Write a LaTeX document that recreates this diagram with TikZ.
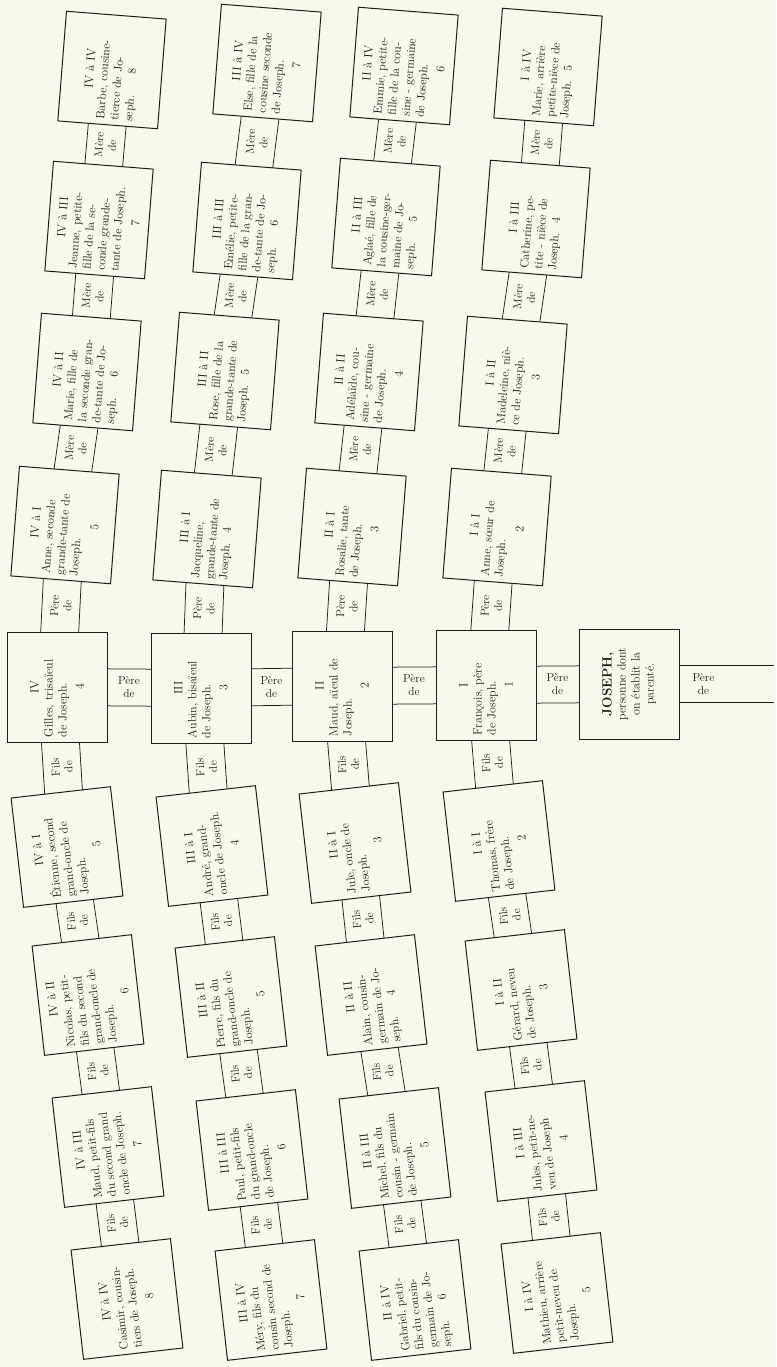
\documentclass[tikz,border=0pt]{standalone}
\usetikzlibrary{backgrounds,calc}
\definecolor{paper}{RGB}{248,248,238}
\definecolor{ink}{RGB}{30,30,28}
\newcommand{\fullline}[1]{\makebox[100pt][s]{#1}}
\newcommand{\midline}[1]{\makebox[100pt][c]{#1}}
\newcommand{\lastnum}[2]{\makebox[100pt][c]{\rlap{#1}\hfill#2\hfill}}
\begin{document}
\begin{tikzpicture}[x=1pt, y=-1pt,
    kinbox/.style={draw=ink, line width=1pt, fill=paper, text=ink,
      font=\fontsize{12}{14}\selectfont, text width=100pt, align=left,
      inner xsep=5pt, inner ysep=3pt, minimum height=100pt},
    upbox/.style={kinbox, rotate=85.5},
    rootbox/.style={kinbox, rotate=90},
    lowbox/.style={kinbox, rotate=96.5},
    linklabel/.style={text=ink, font=\fontsize{11.5}{13}\selectfont, align=center, inner sep=0pt},
    strip/.style={draw=ink, line width=0.75pt}]
    \useasboundingbox (0,0) rectangle (776,1367);

    \node[upbox] (barbe) at (112,70) {\midline{IV à IV}\\\fullline{Barbe, cousine-}\\\fullline{tierce de Jo-}\\\lastnum{seph.}{8}};
    \node[upbox] (jeanne) at (99,220) {\midline{IV à III}\\\fullline{Jeanne, petite-}\\\fullline{fille de la se-}\\\fullline{conde grande-}\\\fullline{tante de Joseph.}\\[3pt]\midline{7}};
    \node[upbox] (marieb) at (87,372) {\midline{IV à II}\\\fullline{Marie, fille de}\\\fullline{la seconde gran-}\\\fullline{de-tante de Jo-}\\\lastnum{seph.}{6}};
    \node[upbox] (anned) at (65,525) {\midline{IV à I}\\\fullline{Anne, seconde}\\\fullline{grande-tante de}\\Joseph.\\[3pt]\midline{5}};
    \node[upbox] (else) at (267,63) {\midline{III à IV}\\\fullline{Else, fille de la}\\\fullline{cousine seconde}\\de Joseph.\\[3pt]\midline{7}};
    \node[upbox] (emelie) at (247,221) {\midline{III à III}\\\fullline{Emélie, petite-}\\\fullline{fille de la gran-}\\\fullline{de-tante de Jo-}\\\lastnum{seph.}{6}};
    \node[upbox] (rose) at (225,371) {\midline{III à II}\\\fullline{Rose, fille de la}\\\fullline{grande-tante de}\\\lastnum{Joseph.}{5}};
    \node[upbox] (jacqueline) at (207,529) {\midline{III à I}\\Jacqueline,\\\fullline{grande-tante de}\\\lastnum{Joseph.}{4}};
    \node[upbox] (emmie) at (404,66) {\midline{II à IV}\\\fullline{Emmie, petite-}\\\fullline{fille de la cou-}\\\fullline{sine - germaine}\\de Joseph.\\[3pt]\midline{6}};
    \node[upbox] (aglae) at (386,217) {\midline{II à III}\\\fullline{Aglaé, fille de}\\\fullline{la cousine-ger-}\\\fullline{maine de Jo-}\\\lastnum{seph.}{5}};
    \node[upbox] (adelaide) at (369,372) {\midline{II à II}\\\fullline{Adélaïde, cou-}\\\fullline{sine - germaine}\\de Joseph.\\[3pt]\midline{4}};
    \node[upbox] (rosalie) at (352,527) {\midline{II à I}\\\fullline{Rosalie, tante}\\de Joseph.\\[3pt]\midline{3}};
    \node[upbox] (mariea) at (548,67) {\midline{I à IV}\\\fullline{Marie, arrière}\\\fullline{petite-nièce de}\\\lastnum{Joseph.}{5}};
    \node[upbox] (catherine) at (536,219) {\midline{I à III}\\\fullline{Catherine, pe-}\\\fullline{tite - nièce de}\\\lastnum{Joseph.}{4}};
    \node[upbox] (madeleine) at (513,375) {\midline{I à II}\\\fullline{Madeleine, niè-}\\ce de Joseph.\\[3pt]\midline{3}};
    \node[upbox] (annea) at (497,527) {\midline{I à I}\\\fullline{Anne, sœur de}\\Joseph.\\[3pt]\midline{2}};

    \node[rootbox] (gilles) at (57,687) {\midline{IV}\\\fullline{Gilles, trisaïeul}\\de Joseph.\\[3pt]\midline{4}};
    \node[rootbox] (aubin) at (201,688) {\midline{III}\\\fullline{Aubin, bisaïeul}\\de Joseph.\\[3pt]\midline{3}};
    \node[rootbox] (maud) at (342,686) {\midline{II}\\\fullline{Maud, aïeul de}\\Joseph.\\[3pt]\midline{2}};
    \node[rootbox] (francois) at (486,685) {\midline{I}\\\fullline{François, père}\\de Joseph.\\[3pt]\midline{1}};
    \node[rootbox] (joseph) at (629,684) {\midline{\fontsize{13.5}{14}\selectfont\bfseries JOSEPH,}\\\midline{personne dont}\\\midline{on établit la}\\\midline{parenté.}};
    \coordinate (rim) at (774,684);

    \node[lowbox] (etienne) at (67,847) {\midline{IV à I}\\\fullline{Étienne, second}\\\fullline{grand-oncle de}\\Joseph.\\[3pt]\midline{5}};
    \node[lowbox] (nicolas) at (88,995) {\midline{IV à II}\\\fullline{Nicolas, petit-}\\\fullline{fils du second}\\\fullline{grand-oncle de}\\Joseph.\\[3pt]\midline{6}};
    \node[lowbox] (maudc) at (108,1147) {\midline{IV à III}\\\fullline{Maud, petit-fils}\\\fullline{du second grand}\\\fullline{oncle de Joseph.}\\[3pt]\midline{7}};
    \node[lowbox] (casimir) at (127,1299) {\midline{IV à IV}\\\fullline{Casimir, cousin-}\\\fullline{tiers de Joseph.}\\[3pt]\midline{8}};
    \node[lowbox] (andre) at (212,846) {\midline{III à I}\\\fullline{André, grand-}\\\fullline{oncle de Joseph.}\\[3pt]\midline{4}};
    \node[lowbox] (pierre) at (231,997) {\midline{III à II}\\\fullline{Pierre, fils du}\\\fullline{grand-oncle de}\\Joseph.\\[3pt]\midline{5}};
    \node[lowbox] (paul) at (252,1150) {\midline{III à III}\\\fullline{Paul, petit-fils}\\\fullline{du grand-oncle}\\de Joseph.\\[3pt]\midline{6}};
    \node[lowbox] (mery) at (271,1300) {\midline{III à IV}\\\fullline{Méry, fils du}\\\fullline{cousin second de}\\Joseph.\\[3pt]\midline{7}};
    \node[lowbox] (jule) at (355,843) {\midline{II à I}\\\fullline{Jule, oncle de}\\Joseph.\\[3pt]\midline{3}};
    \node[lowbox] (alain) at (371,995) {\midline{II à II}\\\fullline{Alain, cousin-}\\\fullline{germain de Jo-}\\\lastnum{seph.}{4}};
    \node[lowbox] (michel) at (395,1148) {\midline{II à III}\\\fullline{Michel, fils du}\\\fullline{cousin - germain}\\de Joseph.\\[3pt]\midline{5}};
    \node[lowbox] (gabriel) at (415,1300) {\midline{II à IV}\\\fullline{Gabriel, petit-}\\\fullline{fils du cousin-}\\\fullline{germain de Jo-}\\\lastnum{seph.}{6}};
    \node[lowbox] (thomas) at (499,841) {\midline{I à I}\\\fullline{Thomas, frère}\\de Joseph.\\[3pt]\midline{2}};
    \node[lowbox] (gerard) at (521,990) {\midline{I à II}\\\fullline{Gérard, neveu}\\de Joseph.\\[3pt]\midline{3}};
    \node[lowbox] (jules) at (541,1141) {\midline{I à III}\\\fullline{Jules, petit-ne-}\\veu de Joseph\\[3pt]\midline{4}};
    \node[lowbox] (mathieu) at (557,1293) {\midline{I à IV}\\\fullline{Mathieu, arrière}\\\fullline{petit-neveu de}\\Joseph.\\[3pt]\midline{5}};

    \begin{scope}[on background layer]
        \fill[paper] (0,0) rectangle (776,1367);
        \foreach \a/\b in {barbe/jeanne, jeanne/marieb, marieb/anned, anned/gilles,
            else/emelie, emelie/rose, rose/jacqueline, jacqueline/aubin,
            emmie/aglae, aglae/adelaide, adelaide/rosalie, rosalie/maud,
            mariea/catherine, catherine/madeleine, madeleine/annea, annea/francois,
            gilles/etienne, etienne/nicolas, nicolas/maudc, maudc/casimir,
            aubin/andre, andre/pierre, pierre/paul, paul/mery,
            maud/jule, jule/alain, alain/michel, michel/gabriel,
            francois/thomas, thomas/gerard, gerard/jules, jules/mathieu} {
            \draw[strip] ([xshift=-19pt]\a.center) -- ([xshift=-19pt]\b.center);
            \draw[strip] ([xshift=19pt]\a.center) -- ([xshift=19pt]\b.center);
        }
        \foreach \a/\b in {gilles/aubin, aubin/maud, maud/francois, francois/joseph, joseph/rim} {
            \draw[strip] ([yshift=18.5pt]\a.center) -- ([yshift=18.5pt]\b.center);
            \draw[strip] ([yshift=-18.5pt]\a.center) -- ([yshift=-18.5pt]\b.center);
        }
    \end{scope}

    \foreach \a/\b in {barbe/jeanne, jeanne/marieb, marieb/anned, else/emelie, emelie/rose, rose/jacqueline,
        emmie/aglae, aglae/adelaide, adelaide/rosalie, mariea/catherine, catherine/madeleine, madeleine/annea}
        \node[linklabel, rotate=86] (mere-\a) at ($(\a)!0.5!(\b)$) {Mère\\de};
    \foreach \a/\b in {anned/gilles, jacqueline/aubin, rosalie/maud, annea/francois}
        \node[linklabel, rotate=88] (pere-\a) at ($(\a)!0.5!(\b)$) {Père\\de};
    \foreach \a/\b in {gilles/etienne, aubin/andre, maud/jule, francois/thomas}
        \node[linklabel, rotate=93] (fils-\a) at ($(\a)!0.5!(\b)$) {Fils\\de};
    \foreach \a/\b in {etienne/nicolas, nicolas/maudc, maudc/casimir, andre/pierre, pierre/paul, paul/mery,
        jule/alain, alain/michel, michel/gabriel, thomas/gerard, gerard/jules, jules/mathieu}
        \node[linklabel, rotate=96] (fils-\a) at ($(\a)!0.5!(\b)$) {Fils\\de};
    \foreach \a/\b in {gilles/aubin, aubin/maud, maud/francois, francois/joseph}
        \node[linklabel] (pere-\a) at ($(\a)!0.5!(\b)$) {Père\\de};
    \node[linklabel] (pere-joseph) at ([xshift=24pt]joseph.south) {Père\\de};
\end{tikzpicture}
\end{document}
